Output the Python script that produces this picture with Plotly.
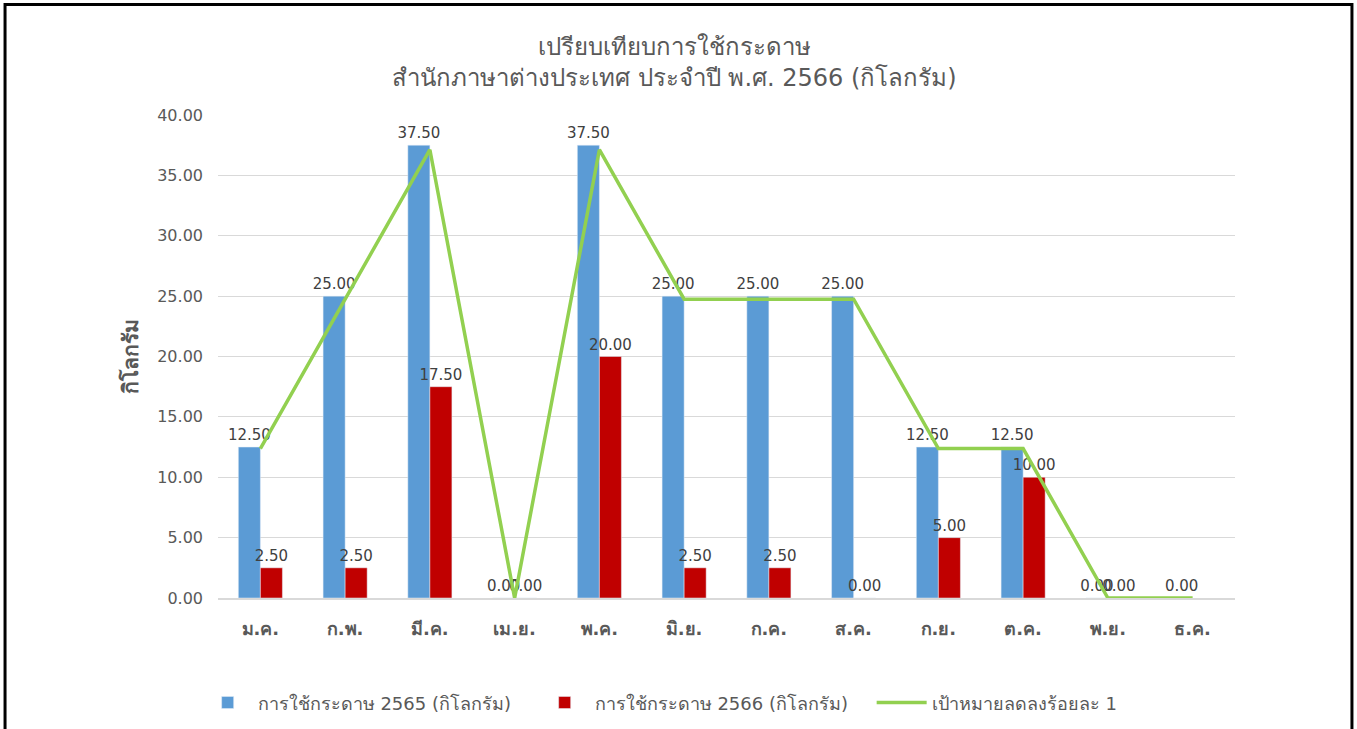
import plotly.graph_objects as go

months = ["ม.ค.", "ก.พ.", "มี.ค.", "เม.ย.", "พ.ค.", "มิ.ย.", "ก.ค.", "ส.ค.", "ก.ย.", "ต.ค.", "พ.ย.", "ธ.ค."]
use_2565 = [12.5, 25, 37.5, 0, 37.5, 25, 25, 25, 12.5, 12.5, 0, 0]
use_2566 = [2.5, 2.5, 17.5, 0, 20, 2.5, 2.5, 0, 5, 10, 0, None]
target = [12.375, 24.75, 37.125, 0, 37.125, 24.75, 24.75, 24.75, 12.375, 12.375, 0, 0]

name_2565 = "การใช้กระดาษ 2565 (กิโลกรัม)"
name_2566 = "การใช้กระดาษ 2566 (กิโลกรัม)"
name_target = "เป้าหมายลดลงร้อยละ 1"
title_text = "เปรียบเทียบการใช้กระดาษ<br>สำนักภาษาต่างประเทศ ประจำปี พ.ศ. 2566 (กิโลกรัม)"

FONT = "Tahoma, 'DejaVu Sans', 'Noto Sans', sans-serif"
GREY = "#595959"

def fmt(vals):
    return ["" if v is None else f"{v:.2f}" for v in vals]

fig = go.Figure()
fig.add_trace(go.Bar(
    x=months, y=use_2565, name=name_2565, marker_color="#5B9BD5",
    text=fmt(use_2565), textposition="outside", constraintext="none",
    cliponaxis=False, textfont=dict(size=15, color="#404040", family=FONT),
))
fig.add_trace(go.Bar(
    x=months, y=use_2566, name=name_2566, marker_color="#C00000",
    text=fmt(use_2566), textposition="outside", constraintext="none",
    cliponaxis=False, textfont=dict(size=15, color="#404040", family=FONT),
))
fig.add_trace(go.Scatter(
    x=months, y=target, name=name_target, mode="lines",
    line=dict(color="#92D050", width=3.5),
))

fig.update_layout(
    width=1357, height=729,
    paper_bgcolor="white", plot_bgcolor="white",
    margin=dict(l=218, r=122, t=115, b=131, autoexpand=False),
    barmode="group", bargap=0.48, bargroupgap=0,
    font=dict(family=FONT, color=GREY),
    title=dict(text=title_text, x=0.497, xref="container", xanchor="center",
               y=0.925, yref="container", yanchor="middle",
               font=dict(size=24, color=GREY, family=FONT)),
    legend=dict(orientation="h", x=-0.02, xref="paper", xanchor="left",
                y=-0.217, yref="paper", yanchor="middle",
                bgcolor="rgba(0,0,0,0)",
                font=dict(size=18, color=GREY, family=FONT),
                itemwidth=50, traceorder="normal", entrywidth=272),
    showlegend=True,
)
fig.update_xaxes(
    showgrid=False, showline=True, linecolor="#D9D9D9", linewidth=1.5,
    tickfont=dict(size=18, color=GREY, family=FONT, weight="bold"), ticks="", ticklabelstandoff=14,
)
fig.update_yaxes(
    range=[0, 40], dtick=5, tickformat=".2f", showgrid=True, gridcolor="#D9D9D9",
    gridwidth=1, zeroline=False, showline=False,
    tickfont=dict(size=16, color=GREY, family=FONT), ticklabelstandoff=14,
    title=dict(text="กิโลกรัม", font=dict(size=21, color=GREY, family=FONT, weight="bold"), standoff=12),
)

fig.add_shape(type="rect", xref="paper", yref="paper",
              x0=-0.2094, x1=1.1150, y0=-0.30, y1=1.229,
              line=dict(color="black", width=3), layer="below")

fig.write_html("out.html", post_script="document.body.style.margin='0';",
               config={"displayModeBar": False})
